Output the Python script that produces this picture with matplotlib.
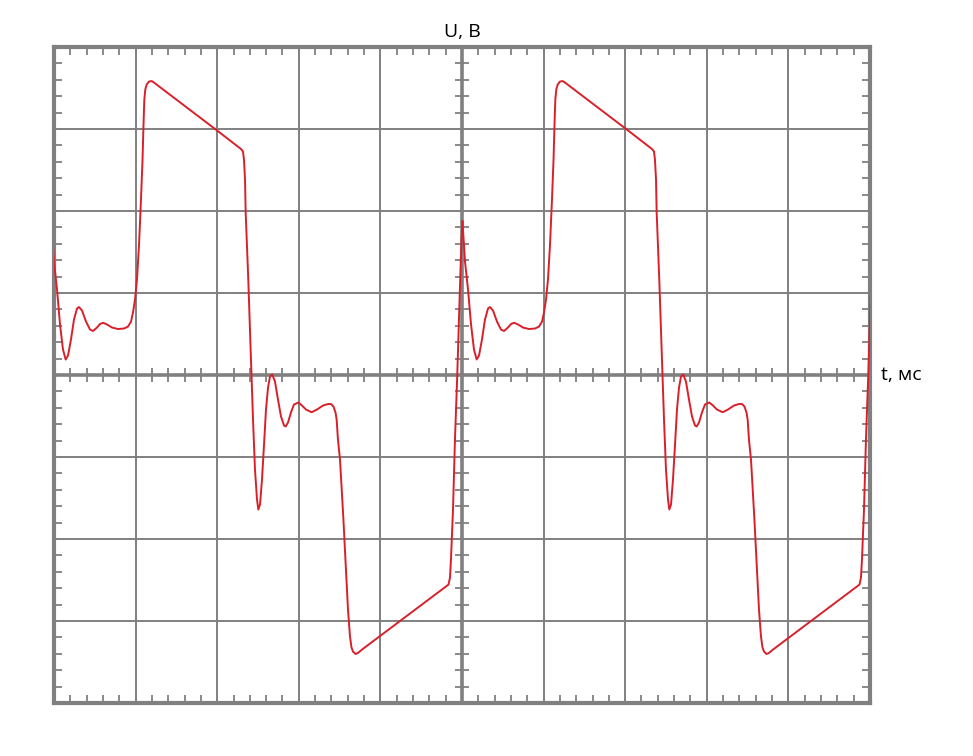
import numpy as np
import matplotlib.pyplot as plt
from matplotlib.ticker import MultipleLocator, NullFormatter

# one period of the waveform (x and y in divisions)
period = 5.037
t_div = [-0.031, 0.000, 0.037, 0.074, 0.110, 0.143, 0.172, 0.208, 0.245, 0.282,
         0.306, 0.343, 0.392, 0.441, 0.478, 0.527, 0.564, 0.604, 0.650, 0.711,
         0.784, 0.858, 0.907, 0.944, 0.968, 0.993, 1.017, 1.042, 1.066, 1.085,
         1.097, 1.107, 1.119, 1.136, 1.164, 1.197, 1.225, 2.010, 2.292, 2.316,
         2.328, 2.341, 2.349, 2.381, 2.414, 2.439, 2.463, 2.488, 2.504, 2.525,
         2.549, 2.574, 2.598, 2.623, 2.647, 2.675, 2.708, 2.745, 2.782, 2.819,
         2.839, 2.868, 2.904, 2.941, 2.994, 3.039, 3.088, 3.158, 3.223, 3.297,
         3.358, 3.395, 3.425, 3.450, 3.464, 3.480, 3.505, 3.545, 3.578, 3.603,
         3.627, 3.646, 3.664, 3.695, 3.725, 3.775, 4.804, 4.835, 4.853, 4.865,
         4.890, 4.914, 4.942, 4.963, 4.982, 4.994, 5.006]
u_div = [1.872, 1.384, 1.043, 0.616, 0.311, 0.189, 0.238, 0.433, 0.677, 0.811,
         0.829, 0.787, 0.652, 0.555, 0.537, 0.579, 0.622, 0.637, 0.616, 0.579,
         0.561, 0.567, 0.591, 0.652, 0.762, 0.921, 1.165, 1.591, 2.140, 2.628,
         3.055, 3.360, 3.482, 3.543, 3.579, 3.585, 3.567, 2.973, 2.756, 2.726,
         2.628, 2.384, 1.982, 1.165, 0.189, -0.543, -1.152, -1.518, -1.640, -1.579,
         -1.274, -0.848, -0.421, -0.152, -0.018, 0.006, -0.079, -0.299, -0.506, -0.616,
         -0.628, -0.579, -0.457, -0.360, -0.335, -0.372, -0.421, -0.454, -0.421, -0.372,
         -0.354, -0.354, -0.384, -0.457, -0.543, -0.787, -1.030, -1.726, -2.372, -2.860,
         -3.185, -3.323, -3.372, -3.402, -3.390, -3.348, -2.579, -2.555, -2.470, -2.250,
         -1.640, -0.787, -0.006, 0.677, 1.287, 1.652, 1.872]
n_periods = 2

grey = '#808080'
red = '#d9202a'

fig = plt.figure(figsize=(9.73, 7.56), dpi=100)
ax = fig.add_axes([0.0555, 0.0701, 0.8386, 0.8677])
ax.set_xlim(0, 10)
ax.set_ylim(-4, 4)

# сетка осциллографа
ax.xaxis.set_major_locator(MultipleLocator(1))
ax.yaxis.set_major_locator(MultipleLocator(1))
ax.xaxis.set_minor_locator(MultipleLocator(0.2))
ax.yaxis.set_minor_locator(MultipleLocator(0.2))
ax.xaxis.set_major_formatter(NullFormatter())
ax.yaxis.set_major_formatter(NullFormatter())
ax.grid(which='major', color=grey, linewidth=1.4)
ax.tick_params(which='major', length=0)
ax.tick_params(which='minor', direction='in', length=6, width=1.3, color=grey,
               top=True, right=True)
for s in ax.spines.values():
    s.set_color(grey)
    s.set_linewidth(3)

# центральные оси с рисками
ax.axhline(0, color=grey, linewidth=2.6)
ax.axvline(5, color=grey, linewidth=2.6)
mx = [v for v in np.arange(0.2, 10, 0.2) if abs(v - round(v)) > 1e-6]
my = [v for v in np.arange(-3.8, 4, 0.2) if abs(v - round(v)) > 1e-6]
ax.plot(mx, np.zeros(len(mx)), linestyle='none', marker='|', markersize=10.5,
        markeredgewidth=1.3, color=grey)
ax.plot(np.full(len(my), 5.0), my, linestyle='none', marker='_', markersize=10.5,
        markeredgewidth=1.3, color=grey)

# сигнал
t = np.array(t_div)
u = np.array(u_div)
for k in range(n_periods):
    ax.plot(t + k * period, u, color=red, linewidth=1.4,
            solid_joinstyle='round', zorder=5)

fig.text(0.4748, 0.958, 'U, B', ha='center', va='center', fontsize=14,
         family='Open Sans')
fig.text(0.905, 0.504, 't, мс', ha='left', va='center', fontsize=14,
         family='Open Sans')

fig.savefig('out.png', dpi=100)
